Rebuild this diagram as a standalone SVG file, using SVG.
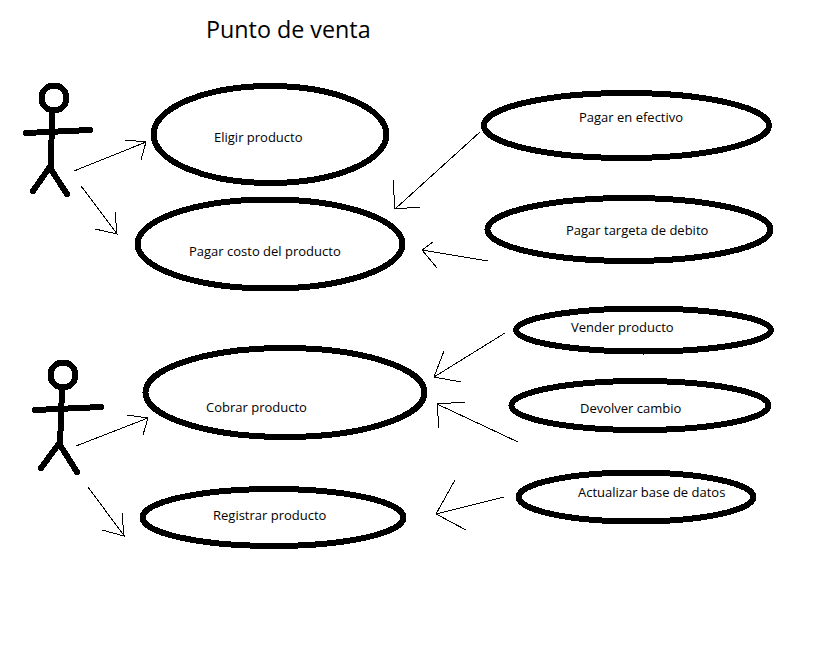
<svg xmlns="http://www.w3.org/2000/svg" width="822" height="665" viewBox="0 0 822 665">
<style>
.uc{fill:none;stroke:#000;stroke-width:6;shape-rendering:crispEdges}
.st{fill:none;stroke:#000;stroke-width:6;stroke-linecap:round;stroke-linejoin:round;shape-rendering:crispEdges}
.ar{fill:none;stroke:#000;stroke-width:1;shape-rendering:crispEdges}
text{font-family:"Open Sans","Noto Sans","Liberation Sans",sans-serif;font-size:13px;fill:#000}
.title{font-size:23.300px}
</style>
<rect width="822" height="665" fill="#fff"/>
<text class="title" x="206" y="38">Punto de venta</text>
<g id="connectors">
<path class="ar" d="M74 171L146 142M125 140L146 142L141 160"/>
<path class="ar" d="M81 186L118 235M115 212L117 234L95 229"/>
<path class="ar" d="M480 132L395 209M393 180L395 209L420 207"/>
<path class="ar" d="M488 261L422 250M433 242L422 250L437 268"/>
<path class="ar" d="M505 333L434 377M444 351L434 377L461 382"/>
<path class="ar" d="M518 442L437 404M465 402L437 404L439 428"/>
<path class="ar" d="M504 497L436 514M455 480L436 514L466 530"/>
<path class="ar" d="M76 446L148 418M127 415L148 418L143 435"/>
<path class="ar" d="M88 487L125 537M122 513L124 536L102 530"/>
</g>
<g id="actor-1"><circle class="st" cx="54" cy="98" r="12.500"/><path class="st" d="M52 112L51 168M26 133L90 130M49 168L33 191M50 168L67 194"/></g>
<g id="actor-2"><circle class="st" cx="63" cy="375" r="12.500"/><path class="st" d="M62 389L60 445M35 410L101 407M58 445L41 468M60 445L77 472"/></g>
<g id="uc-eligir"><ellipse class="uc" cx="270" cy="134.500" rx="116.500" ry="48.500"/><text x="214" y="142">Eligir producto</text></g>
<g id="uc-pagar"><ellipse class="uc" cx="270" cy="244" rx="132.500" ry="44.500"/><text x="189" y="256">Pagar costo del producto</text></g>
<g id="uc-efectivo"><ellipse class="uc" cx="626.500" cy="125.500" rx="142.500" ry="32.500"/><text x="579" y="122">Pagar en efectivo</text></g>
<g id="uc-debito"><ellipse class="uc" cx="629" cy="229.500" rx="141.500" ry="31.500"/><text x="566" y="235">Pagar targeta de debito</text></g>
<g id="uc-vender"><ellipse class="uc" cx="643.500" cy="330" rx="127.500" ry="21.500"/><text x="571" y="332">Vender producto</text></g>
<g id="uc-devolver"><ellipse class="uc" cx="640" cy="405.500" rx="128.500" ry="24.500"/><text x="580" y="413">Devolver cambio</text></g>
<g id="uc-actualizar"><ellipse class="uc" cx="636" cy="497" rx="117.500" ry="24.500"/><text x="578" y="497">Actualizar base de datos</text></g>
<g id="uc-cobrar"><ellipse class="uc" cx="285" cy="392.500" rx="139.500" ry="44.500"/><text x="206" y="412">Cobrar producto</text></g>
<g id="uc-registrar"><ellipse class="uc" cx="273" cy="517.500" rx="130.500" ry="28.500"/><text x="213" y="520">Registrar producto</text></g>
</svg>
